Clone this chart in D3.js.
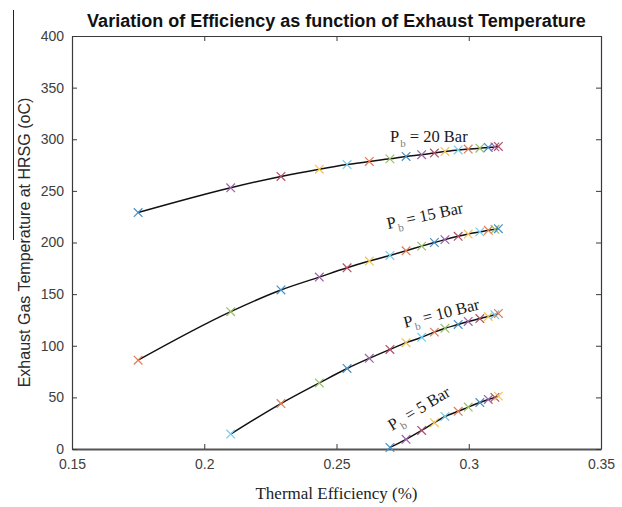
<!DOCTYPE html>
<html>
<head>
<meta charset="utf-8">
<script src="https://cdn.jsdelivr.net/npm/d3@7"></script>
<style>
  html, body { margin: 0; padding: 0; background: #fff; }
  svg { display: block; }
</style>
</head>
<body>
<svg id="chart" width="622" height="507"></svg>
<script>
// Thermal efficiency values shared by the pressure curves
const efficiency = [0.175, 0.21, 0.229, 0.2435, 0.254, 0.2624, 0.2702, 0.2763, 0.2822,
                    0.287, 0.291, 0.296, 0.2998, 0.3042, 0.3074, 0.3099, 0.3112];

// Exhaust gas temperature (oC) for each boiler pressure; null = not plotted
const temp20 = [229, 253, 264, 271, 275.5, 278.5, 281, 283.3, 285, 286.6, 288.2, 289.6, 290.5, 291.3, 292.1, 292.6, 293];
const temp15 = [86, 133, 154, 166.5, 175.5, 182, 187.5, 192, 196.5, 200, 202.8, 206, 208.2, 210.3, 211.8, 212.8, 213.4];
const temp10 = [null, 14.5, 44, 64, 78, 87.8, 96.4, 103, 108.2, 113.2, 116.9, 120.6, 123.5, 126.3, 128.3, 130, 131.3];
const temp5  = [null, null, null, null, null, null, 1.5, 9.4, 18, 25.5, 31.5, 36.5, 40.6, 45, 48, 50, 51.2];

const seriesNames = ["20", "15", "10", "5"];
const seriesTemps = [temp20, temp15, temp10, temp5];

const xTicks = [0.15, 0.2, 0.25, 0.3, 0.35];
const xTickLabels = ["0.15", "0.2", "0.25", "0.3", "0.35"];
const yTicks = [0, 50, 100, 150, 200, 250, 300, 350, 400];

// marker colour order (cycled through point by point)
const markerColors = ["#4690c8", "#e07c54", "#efc45c", "#9c62aa", "#98c064", "#78cbec", "#b44e66"];

const svg = d3.select("#chart");
svg.append("rect").attr("width", 622).attr("height", 507).attr("fill", "#fff");

const plotLeft = 72, plotRight = 601, plotTop = 36, plotBottom = 449;
const x = d3.scaleLinear().domain([0.15, 0.35]).range([plotLeft, plotRight]);
const y = d3.scaleLinear().domain([0, 400]).range([plotBottom, plotTop]);

// stray vertical rule at the far left
svg.append("line").attr("x1", 13.5).attr("x2", 13.5).attr("y1", 10).attr("y2", 240)
  .attr("stroke", "#222").attr("stroke-width", 1);

const axisColor = "#3a3a3a";
const tickFont = "'Liberation Sans', Arial, sans-serif";

// Box axes with inward ticks
const gx = svg.append("g").attr("transform", `translate(0,${plotBottom})`)
  .call(d3.axisBottom(x).tickValues(xTicks).tickSizeInner(-5).tickSizeOuter(0).tickPadding(10)
    .tickFormat((d, i) => xTickLabels[i]));
const gxt = svg.append("g").attr("transform", `translate(0,${plotTop})`)
  .call(d3.axisTop(x).tickValues(xTicks).tickSizeInner(-5).tickSizeOuter(0).tickFormat(""));
const gy = svg.append("g").attr("transform", `translate(${plotLeft},0)`)
  .call(d3.axisLeft(y).tickValues(yTicks).tickSizeInner(-5).tickSizeOuter(0).tickPadding(8));
const gyr = svg.append("g").attr("transform", `translate(${plotRight},0)`)
  .call(d3.axisRight(y).tickValues(yTicks).tickSizeInner(-5).tickSizeOuter(0).tickFormat(""));

[gx, gxt, gy, gyr].forEach(g => {
  g.select(".domain").attr("stroke", axisColor).attr("stroke-width", 1.2);
  g.selectAll(".tick line").attr("stroke", axisColor).attr("stroke-width", 1);
  g.selectAll(".tick text").attr("fill", "#404040")
    .style("font-family", tickFont).style("font-size", "14px");
});
gx.select(".domain").attr("stroke-width", 2).attr("stroke", "#555");

// Curves
const line = d3.line()
  .x(d => x(d.e)).y(d => y(d.t))
  .curve(d3.curveMonotoneX);

const plot = svg.append("g");
seriesTemps.forEach((temps, si) => {
  const pts = efficiency.map((e, i) => ({ e, t: temps[i], i }));
  const valid = pts.filter(p => p.t !== null);
  plot.append("path").datum(valid)
    .attr("d", line)
    .attr("fill", "none").attr("stroke", "#111").attr("stroke-width", 1.5);

  const s = 4.3;
  plot.append("g").selectAll("path.mk").data(valid).join("path")
    .attr("class", "mk")
    .attr("d", d => {
      const cx = x(d.e), cy = y(d.t);
      return `M${cx - s},${cy - s}L${cx + s},${cy + s}M${cx - s},${cy + s}L${cx + s},${cy - s}`;
    })
    .attr("stroke", d => markerColors[(si + 3 * d.i) % 7])
    .attr("stroke-width", 1.2).attr("fill", "none");
});

// Curve annotations
const serif = "'Liberation Serif', 'Times New Roman', serif";
const labelSpecs = [
  { name: seriesNames[0], px: 390, py: 142, rot: 0 },
  { name: seriesNames[1], px: 388, py: 229, rot: -12 },
  { name: seriesNames[2], px: 405, py: 328, rot: -14 },
  { name: seriesNames[3], px: 392, py: 431, rot: -31 }
];
labelSpecs.forEach(l => {
  const t = svg.append("text")
    .attr("transform", `translate(${l.px},${l.py}) rotate(${l.rot})`)
    .style("font-family", serif).style("font-size", "16.5px").attr("fill", "#1a1a1a");
  t.append("tspan").text("P");
  t.append("tspan").attr("dy", 5).attr("dx", 1).style("font-size", "11px").attr("fill", "#808080").text("b");
  t.append("tspan").attr("dy", -5).text(` = ${l.name} Bar`);
});

// Title and axis labels
svg.append("text").attr("x", (plotLeft + plotRight) / 2).attr("y", 27)
  .attr("text-anchor", "middle")
  .style("font-family", tickFont).style("font-size", "18px").style("font-weight", "bold")
  .attr("fill", "#111")
  .text("Variation of Efficiency as function of Exhaust Temperature");

svg.append("text").attr("x", (plotLeft + plotRight) / 2).attr("y", 499)
  .attr("text-anchor", "middle")
  .style("font-family", serif).style("font-size", "17px").attr("fill", "#222")
  .text("Thermal Efficiency (%)");

svg.append("text")
  .attr("transform", `translate(30,${(plotTop + plotBottom) / 2}) rotate(-90)`)
  .attr("text-anchor", "middle")
  .style("font-family", tickFont).style("font-size", "16px").attr("fill", "#2a2a2a")
  .text("Exhaust Gas Temperature at HRSG (oC)");
</script>
</body>
</html>
